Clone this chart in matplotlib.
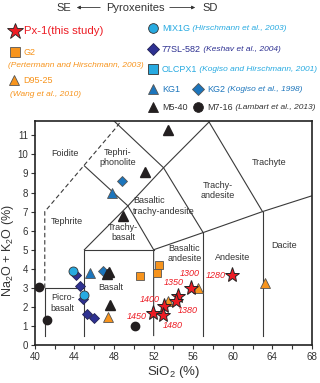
import numpy as np
import matplotlib
matplotlib.use('Agg')
import matplotlib.pyplot as plt

plt.rcParams['font.family'] = ['Liberation Sans', 'DejaVu Sans']
plt.rcParams['mathtext.fontset'] = 'custom'
plt.rcParams['mathtext.rm'] = 'Liberation Sans'
plt.rcParams['mathtext.it'] = 'Liberation Sans:italic'

# --- data ---
px1_sio2 = [59.9, 55.8, 54.5, 54.3, 53.0, 51.9, 52.9]
px1_alk = [3.7, 3.0, 2.6, 2.3, 2.05, 1.7, 1.6]
px1_temps = ['1280', '1300', '1350', '1380', '1400', '1450', '1480']
temp_pos = [(58.3, 3.65), (55.6, 3.75), (54.0, 3.3), (55.4, 1.8),
            (51.6, 2.4), (50.3, 1.5), (53.9, 1.05)]

g2_sio2 = [50.6, 52.5, 52.35]
g2_alk = [3.6, 4.2, 3.8]
d95_sio2 = [47.4, 53.5, 56.5, 63.3]
d95_alk = [1.45, 2.3, 3.0, 3.25]
mix1g_sio2 = [43.9, 45.0]
mix1g_alk = [3.9, 2.65]
sl582_sio2 = [44.15, 44.55, 44.9, 45.3, 46.0]
sl582_alk = [3.67, 3.1, 2.4, 1.65, 1.4]
olcpx1_sio2 = []
olcpx1_alk = []
kg1_sio2 = [45.55, 47.75]
kg1_alk = [3.78, 7.95]
kg2_sio2 = [48.85, 46.85]
kg2_alk = [8.6, 3.88]
m540_sio2 = [53.5, 51.1, 48.9, 47.25, 47.5, 47.6]
m540_alk = [11.3, 9.1, 6.75, 3.72, 3.85, 2.1]
m716_sio2 = [40.45, 41.25, 50.1]
m716_alk = [3.05, 1.3, 1.0]

# TAS field boundaries (solid) and foidite limit (dashed)
tas_solid = [
    [(41, 0.5), (41, 3), (45, 3)],
    [(45, 0.5), (45, 5), (52, 5)],
    [(52, 0.5), (52, 5), (57, 5.9), (63, 7), (68, 7.83)],
    [(57, 0.5), (57, 5.9)],
    [(63, 0.5), (63, 7)],
    [(45, 5), (49.4, 7.3), (53, 9.3), (57.6, 11.7)],
    [(45, 9.4), (49.4, 7.3), (52, 5)],
    [(48.0, 11.75), (53, 9.3), (57, 5.9)],
    [(57.6, 11.7), (63, 7)],
]
tas_dashed = [(41, 3), (41, 7), (48.2, 11.4), (48.7, 11.75)]

fields = [('Foidite', 43.0, 10.05, 'center'), ('Tephri-\nphonolite', 48.4, 9.85, 'center'),
          ('Trachyte', 63.7, 9.6, 'center'), ('Trachy-\nandesite', 58.5, 8.1, 'center'),
          ('Basaltic\ntrachy-andesite', 49.9, 7.3, 'left'), ('Tephrite', 43.2, 6.5, 'center'),
          ('Trachy-\nbasalt', 48.9, 5.9, 'center'), ('Dacite', 65.2, 5.2, 'center'),
          ('Basaltic\nandesite', 55.1, 4.8, 'center'), ('Andesite', 60.0, 4.6, 'center'),
          ('Basalt', 47.7, 3.0, 'center'), ('Picro-\nbasalt', 42.8, 2.2, 'center')]

c_red = '#ed1c24'
c_orange = '#f7941d'
c_lblue = '#27aae1'
c_dblue = '#2e3192'
c_blue = '#1c75bc'
c_black = '#231f20'
c_text = '#333333'

fig = plt.figure(figsize=(3.2, 3.83), dpi=100)
ax = fig.add_axes([0.109, 0.099, 0.866, 0.585])

for seg in tas_solid:
    xs, ys = zip(*seg)
    ax.plot(xs, ys, color='#3a3a3a', lw=0.8, zorder=1)
xs, ys = zip(*tas_dashed)
ax.plot(xs, ys, color='#3a3a3a', lw=0.8, ls=(0, (4, 2.5)), zorder=1)

for name, x, y, ha in fields:
    ax.text(x, y, name, fontsize=6.5, color=c_text, ha=ha, va='center',
            linespacing=1.2, zorder=2)

ec = '#333333'
ax.plot(m716_sio2, m716_alk, 'o', ms=6, color=c_black, mec=c_black, zorder=3)
ax.plot(g2_sio2, g2_alk, 's', ms=5.5, color=c_orange, mec='#555555', mew=0.6, zorder=3)
ax.plot(d95_sio2, d95_alk, '^', ms=7, color=c_orange, mec='#555555', mew=0.6, zorder=3)
ax.plot(sl582_sio2, sl582_alk, 'D', ms=5, color=c_dblue, mec='#222255', mew=0.6, zorder=3)
ax.plot(mix1g_sio2, mix1g_alk, 'o', ms=6.5, color=c_lblue, mec=ec, mew=0.6, zorder=4)
ax.plot(olcpx1_sio2, olcpx1_alk, 's', ms=6, color=c_lblue, mec=ec, mew=0.6, zorder=3)
ax.plot(kg1_sio2, kg1_alk, '^', ms=6.5, color=c_blue, mec='#555555', mew=0.6, zorder=3)
ax.plot(kg2_sio2, kg2_alk, 'D', ms=5, color=c_blue, mec='#555555', mew=0.6, zorder=3)
ax.plot(m540_sio2, m540_alk, '^', ms=6.5, color=c_black, mec=c_black, zorder=4)
ax.plot(px1_sio2, px1_alk, '*', ms=11, color=c_red, mec='#222222', mew=0.7, zorder=5)

for t, (x, y) in zip(px1_temps, temp_pos):
    ax.text(x, y, t, fontsize=6.5, color=c_red, style='italic',
            ha='center', va='center', zorder=6)

ax.set_xlim(40, 68)
ax.set_ylim(0, 11.75)
ax.set_xticks(np.arange(40, 69, 4))
ax.set_xticks(np.arange(40, 69, 2), minor=True)
ax.set_yticks(np.arange(0, 12, 1))
ax.tick_params(labelsize=7, labelcolor=c_text, color=c_text, length=3, width=0.8, pad=2)
ax.tick_params(which='minor', length=3, width=0.8, color=c_text)
for s in ax.spines.values():
    s.set_linewidth(1.2)
    s.set_color('#222222')
ax.set_xlabel('SiO$_2$ (%)', fontsize=9.5, color=c_text)
ax.set_ylabel('Na$_2$O + K$_2$O (%)', fontsize=9, color=c_text)
ax.xaxis.set_label_coords(0.5, -0.085)
ax.yaxis.set_label_coords(-0.068, 0.42)

# --- legend area above the plot ---
lg = fig.add_axes([0, 0.684, 1, 0.316])
lg.set_xlim(0, 320)
lg.set_ylim(121, 0)
lg.axis('off')

lg.text(64, 7.5, 'SE', fontsize=8, color=c_text, ha='center', va='center')
lg.text(135, 7.5, 'Pyroxenites', fontsize=8, color=c_text, ha='center', va='center')
lg.text(210, 7.5, 'SD', fontsize=8, color=c_text, ha='center', va='center')
arr = dict(arrowstyle='-|>', color=c_text, lw=0.6, mutation_scale=5)
lg.annotate('', xy=(74, 7.5), xytext=(103, 7.5), arrowprops=arr)
lg.annotate('', xy=(198, 7.5), xytext=(167, 7.5), arrowprops=arr)

def entry(x, y, marker, ms, fc, mec, label, color, ref=None, fs=6.5):
    lg.plot([x], [y], marker, ms=ms, color=fc, mec=mec, mew=0.6, clip_on=False)
    t = lg.text(x + 9, y, label, fontsize=fs, color=color, va='center')
    if ref:
        lg.annotate(' ' + ref, xy=(1, 0.5), xycoords=t, fontsize=6, color=color,
                    style='italic', va='center')
    return t

entry(15, 31, '*', 12, c_red, '#222222', 'Px-1(this study)', c_red, fs=8.2)
entry(15, 52, 's', 6.5, c_orange, '#555555', 'G2', c_orange)
lg.text(8, 65, '(Pertermann and Hirschmann, 2003)', fontsize=6, color=c_orange,
        style='italic', va='center')
entry(14, 80, '^', 7, c_orange, '#555555', 'D95-25', c_orange)
lg.text(10, 94, '(Wang et al., 2010)', fontsize=6, color=c_orange,
        style='italic', va='center')

entry(153, 28, 'o', 7, c_lblue, ec, 'MIX1G', c_lblue, '(Hirschmann et al., 2003)')
entry(153, 49, 'D', 6, c_dblue, '#222255', '77SL-582', c_dblue, '(Keshav et al., 2004)')
entry(153, 69, 's', 7, c_lblue, ec, 'OLCPX1', c_lblue, '(Kogiso and Hirschmann, 2001)')
entry(153, 89, '^', 7, c_blue, '#555555', 'KG1', c_blue)
entry(198, 89, 'D', 6, c_blue, '#555555', 'KG2', c_blue, '(Kogiso et al., 1998)')
entry(153, 107, '^', 7, c_black, c_black, 'M5-40', c_text)
entry(198, 107, 'o', 7, c_black, c_black, 'M7-16', c_text, '(Lambart et al., 2013)')

fig.savefig('out.png', dpi=100)
